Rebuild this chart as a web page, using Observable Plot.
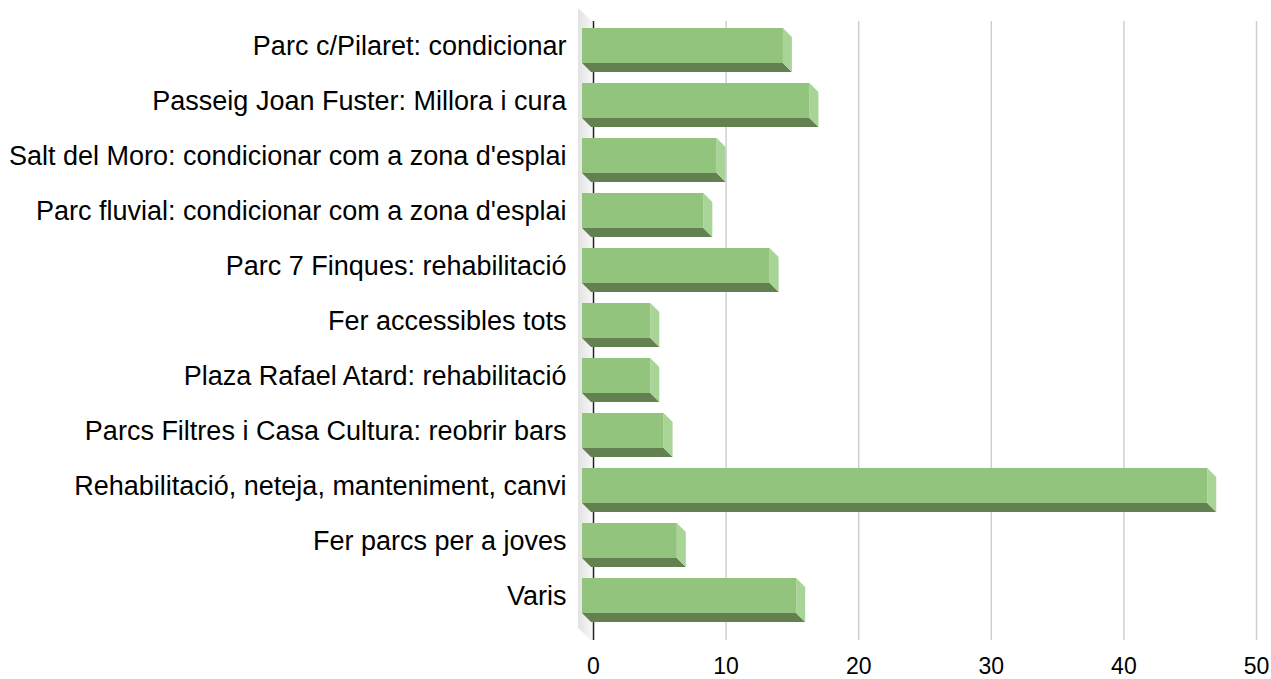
<!DOCTYPE html>
<html>
<head>
<meta charset="utf-8">
<script src="https://cdn.jsdelivr.net/npm/d3@7"></script>
<script src="https://cdn.jsdelivr.net/npm/@observablehq/plot@0.6"></script>
<style>
  html, body { margin: 0; padding: 0; background: #fff; }
</style>
</head>
<body>
<div id="chart"></div>
<script>
const categories = [
  "Parc c/Pilaret: condicionar",
  "Passeig Joan Fuster: Millora i cura",
  "Salt del Moro: condicionar com a zona d'esplai",
  "Parc fluvial: condicionar com a zona d'esplai",
  "Parc 7 Finques: rehabilitació",
  "Fer accessibles tots",
  "Plaza Rafael Atard: rehabilitació",
  "Parcs Filtres i Casa Cultura: reobrir bars",
  "Rehabilitació, neteja, manteniment, canvi",
  "Fer parcs per a joves",
  "Varis"
];
const values = [15, 17, 10, 9, 14, 5, 5, 6, 47, 7, 16];
const xTicks = [0, 10, 20, 30, 40, 50];

const data = categories.map((c, i) => ({category: c, value: values[i]}));

const DX = 9, DY = 9;
const colFront = "#93c47d", colBottom = "#628050", colSide = "#a9d497";

function wallRender(index, scales, values, dimensions) {
  const x0 = scales.x(0);
  const top = dimensions.marginTop, bottom = dimensions.height - dimensions.marginBottom;
  const g = d3.create("svg:g");
  const defs = g.append("defs");
  const grad = defs.append("linearGradient").attr("id", "wallgrad").attr("x1", 0).attr("x2", 1).attr("y1", 0).attr("y2", 0);
  grad.append("stop").attr("offset", "0%").attr("stop-color", "#e2e2e2");
  grad.append("stop").attr("offset", "100%").attr("stop-color", "#f6f6f6");
  const pts = [[x0 - 15, top + 4], [x0 - 1, top + 17], [x0 - 1, bottom + 4], [x0 - 15, bottom - 9]];
  g.append("polygon").attr("points", pts.map(p => p.join(",")).join(" ")).attr("fill", "url(#wallgrad)");
  return g.node();
}

function barsRender(index, scales, values, dimensions) {
  const g = d3.create("svg:g");
  const bw = scales.y.bandwidth ? scales.y.bandwidth() : 35;
  for (const i of index) {
    const d = data[i];
    const xa = scales.x(0) - 11;
    const xb = scales.x(d.value) - DX;
    const yt = scales.y(d.category);
    const yb = yt + bw;
    g.append("polygon")
      .attr("points", [[xa, yb], [xb, yb], [xb + DX, yb + DY], [xa + DX, yb + DY]].map(p => p.join(",")).join(" "))
      .attr("fill", colBottom);
    g.append("polygon")
      .attr("points", [[xb, yt], [xb + DX, yt + DY], [xb + DX, yb + DY], [xb, yb]].map(p => p.join(",")).join(" "))
      .attr("fill", colSide);
    g.append("rect")
      .attr("x", xa).attr("y", yt).attr("width", xb - xa).attr("height", bw)
      .attr("fill", colFront);
  }
  return g.node();
}

const chart = Plot.plot({
  width: 1271,
  height: 679,
  marginLeft: 593,
  marginRight: 15,
  marginTop: 4,
  marginBottom: 42,
  x: {domain: [0, 50], label: null},
  y: {domain: categories, padding: 0.37, label: null},
  style: {fontFamily: "'Liberation Sans', Arial, sans-serif", fontSize: "23px", color: "#000", background: "#fff"},
  marks: [
    Plot.ruleX([0], {render: wallRender}),
    Plot.ruleX(xTicks.slice(1), {stroke: "#cfcfcf", strokeWidth: 1.5, strokeOpacity: 1, insetTop: 14, dy: 3}),
    Plot.ruleX([0], {stroke: "#222", strokeWidth: 1.5, strokeOpacity: 1, insetTop: 14, dy: 3}),
    Plot.barX(data, {x: "value", y: "category", render: barsRender}),
    Plot.axisX({ticks: xTicks, tickSize: 0, tickPadding: 20, fontSize: 23, label: null}),
    Plot.axisY({tickSize: 0, tickPadding: 27, fontSize: 27, label: null})
  ]
});
document.getElementById("chart").appendChild(chart);
</script>
</body>
</html>
